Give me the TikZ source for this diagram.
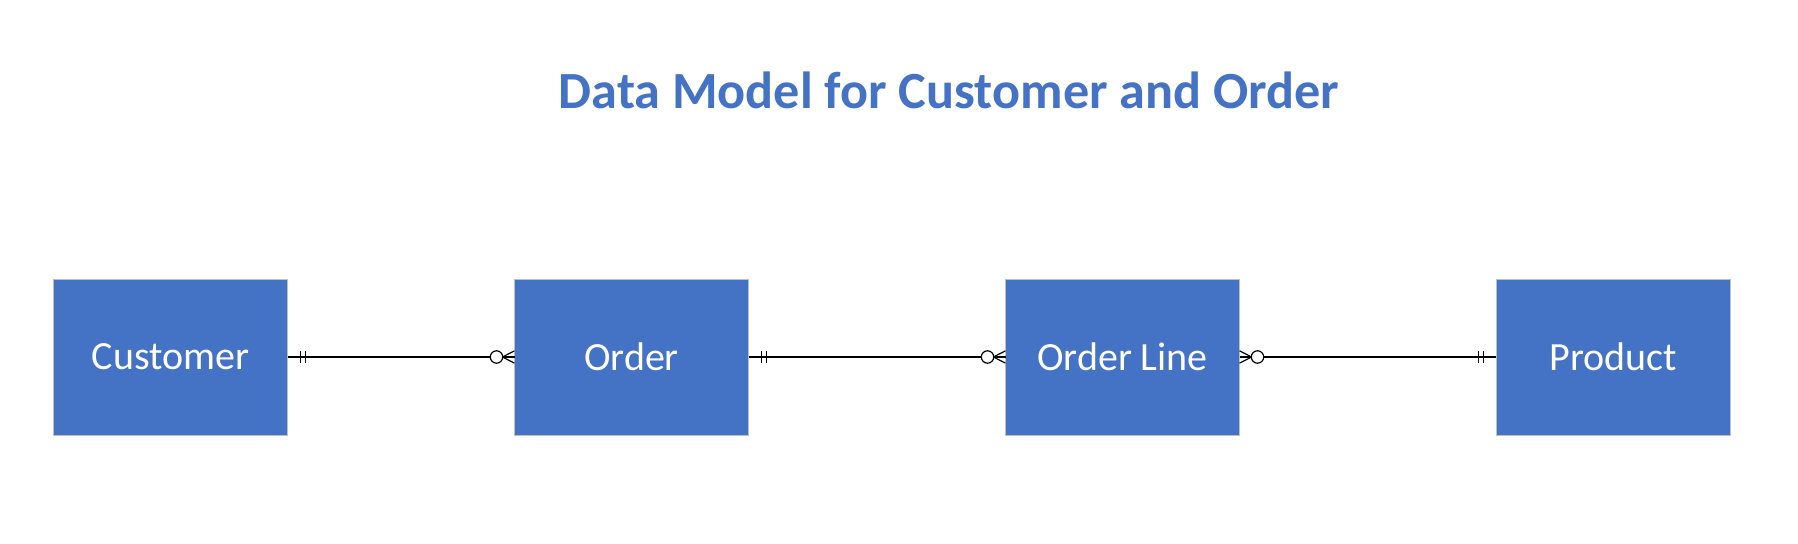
\documentclass[tikz,border=0pt]{standalone}
\usepackage{fontspec}
\setmainfont{Carlito}
\usetikzlibrary{positioning,calc}
\definecolor{entblue}{HTML}{4472C4}
\tikzstyle{entity}=[rectangle,draw=black!25,fill=entblue,text=white,minimum width=117pt,minimum height=78pt,inner sep=0pt,outer sep=0pt,font=\fontsize{20}{24}\selectfont]
\tikzstyle{rel}=[line width=0.7pt]
\tikzstyle{crow}=[line width=0.6pt]
\tikzstyle{heading}=[text=entblue,anchor=base,font=\fontsize{26.1}{31}\selectfont\bfseries]
% exactly one: two bars, #2 is +1 (to the right) or -1 (to the left)
\newcommand{\exactlyone}[2]{%
  \draw[crow] ($(#1)+(#2*6.35pt,3pt)$) -- ($(#1)+(#2*6.35pt,-3pt)$);
  \draw[crow] ($(#1)+(#2*9pt,3pt)$) -- ($(#1)+(#2*9pt,-3pt)$);
}
% zero or many: circle and crow's foot
\newcommand{\zeromany}[2]{%
  \draw[crow] ($(#1)+(#2*6pt,0)$) -- ($(#1)+(0,3.1pt)$);
  \draw[crow] ($(#1)+(#2*6pt,0)$) -- ($(#1)+(0,-3.1pt)$);
  \draw[crow,fill=white] ($(#1)+(#2*9pt,0)$) circle (3.1pt);
}

\begin{document}
\begin{tikzpicture}
          \useasboundingbox (0,0) rectangle (899pt,-272pt);

          \node[heading] (title) at (474.5pt,-54.5pt) {Data Model for Customer and Order};

          \node[entity] (cust) at (85.25pt,-178.5pt) {Customer};

          \node[entity] (ord) [right=113.5pt of cust] {Order};
          \path[rel]    (cust) edge (ord);
          \exactlyone{cust.east}{1}
          \zeromany{ord.west}{-1}

          \node[entity] (line) [right=128.5pt of ord] {Order Line};
          \path[rel]    (ord) edge (line);
          \exactlyone{ord.east}{1}
          \zeromany{line.west}{-1}

          \node[entity] (prod) [right=128.3pt of line] {Product};
          \path[rel]    (line) edge (prod);
          \zeromany{line.east}{1}
          \exactlyone{prod.west}{-1}
        \end{tikzpicture}
\end{document}
